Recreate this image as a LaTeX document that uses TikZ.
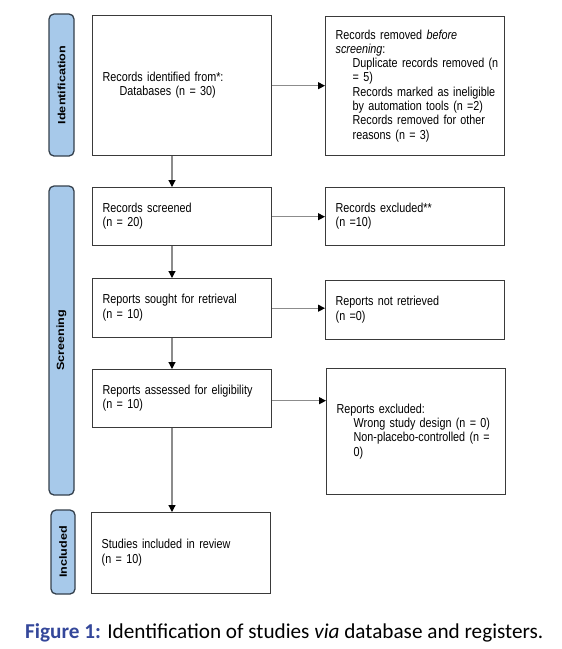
\documentclass[tikz,border=0pt]{standalone}
\usepackage{fontspec}
\setmainfont{Liberation Sans}
\newfontfamily\boxfont[FakeStretch=0.83]{Liberation Sans}
\newfontfamily\labfont[FakeStretch=1.2]{Liberation Sans}
\newfontfamily\capfont{Carlito}
\usetikzlibrary{arrows.meta,calc}
\definecolor{boxline}{HTML}{3A3A3A}
\definecolor{labfill}{HTML}{A7C9EA}
\definecolor{labline}{HTML}{34404C}
\definecolor{arrline}{HTML}{8C8C8C}
\definecolor{capblue}{HTML}{34479A}
\newcommand{\flines}[1]{\begin{tabular}{@{}l@{}}#1\end{tabular}}
\newcommand{\ind}{\hspace*{17pt}}
\begin{document}
\begin{tikzpicture}[x=1pt,y=-1pt,
  flowbox/.style={draw=boxline, line width=1.4pt, fill=white, rectangle,
    anchor=north west, minimum width=179pt, text width=159pt, inner xsep=10pt,
    inner ysep=0pt, align=left, font=\boxfont\fontsize{13}{14.3}\selectfont},
  phasebox/.style={draw=labline, line width=1.3pt, fill=labfill, rounded corners=5pt,
    rotate=90, minimum height=25pt, inner sep=0pt,
    font=\labfont\bfseries\fontsize{10.5}{12}\selectfont},
  flowarrow/.style={draw=arrline, line width=1.2pt,
    -{Triangle[width=7pt,length=7pt,color=black]}}
]
\useasboundingbox (0,0) rectangle (562,649);

% phase labels
\node[phasebox, minimum width=142pt] (pid) at (61.5,85) {Identification};
\node[phasebox, minimum width=309pt] (psc) at (61.5,340.5) {Screening};
\node[phasebox, minimum width=84pt, minimum height=24pt] (pin) at (63,552) {Included};

% main column
\node[flowbox, minimum height=140pt] (ident) at (92,15)
  {\flines{Records identified from*:\\\ind Databases (n = 30)}};
\node[flowbox, minimum height=58pt] (screen) at (92,187)
  {\flines{Records screened\\(n = 20)}};
\node[flowbox, minimum height=59pt] (sought) at (92,278)
  {\flines{Reports sought for retrieval\\(n = 10)}};
\node[flowbox, minimum height=58pt] (assess) at (92,369)
  {\flines{Reports assessed for eligibility\\(n = 10)}};
\node[flowbox, minimum height=81pt] (incl) at (91,512)
  {\flines{Studies included in review\\(n = 10)}};

% right column
\node[flowbox, minimum height=139pt] (removed) at (325,16)
  {\flines{Records removed \textit{before}\\\textit{screening}:\\
   \ind Duplicate records removed (n\\\ind = 5)\\
   \ind Records marked as ineligible\\\ind by automation tools (n =2)\\
   \ind Records removed for other\\\ind reasons (n = 3)}};
\node[flowbox, minimum height=58pt] (excl) at (325,187)
  {\flines{Records excluded**\\(n =10)}};
\node[flowbox, minimum height=59pt] (notret) at (325,280)
  {\flines{Reports not retrieved\\(n =0)}};
\node[flowbox, minimum height=126pt] (repexcl) at (326,368)
  {\flines{Reports excluded:\\\ind Wrong study design (n = 0)\\
   \ind Non-placebo-controlled (n =\\\ind 0)}};

% arrows down
\draw[flowarrow] (ident.south -| 172,0) -- (screen.north -| 172,0);
\draw[flowarrow] (screen.south -| 172,0) -- (sought.north -| 172,0);
\draw[flowarrow] (sought.south -| 172,0) -- (assess.north -| 172,0);
\draw[flowarrow] (assess.south -| 172,0) -- (incl.north -| 172,0);

% arrows right
\draw[flowarrow] (ident.east) -- (ident.east -| removed.west);
\draw[flowarrow] (screen.east) -- (screen.east -| excl.west);
\draw[flowarrow] (sought.east) -- (sought.east -| notret.west);
\coordinate (aout) at ($(assess.east)+(0,2)$);
\draw[flowarrow] (aout) -- (aout -| repexcl.west);

% caption
\node[anchor=base west, inner sep=0pt, font=\capfont\fontsize{21.2}{25}\selectfont] (cap) at (25,638)
  {\textcolor{capblue}{\bfseries Figure 1:} Identification of studies \textit{via} database and registers.};
\end{tikzpicture}
\end{document}
